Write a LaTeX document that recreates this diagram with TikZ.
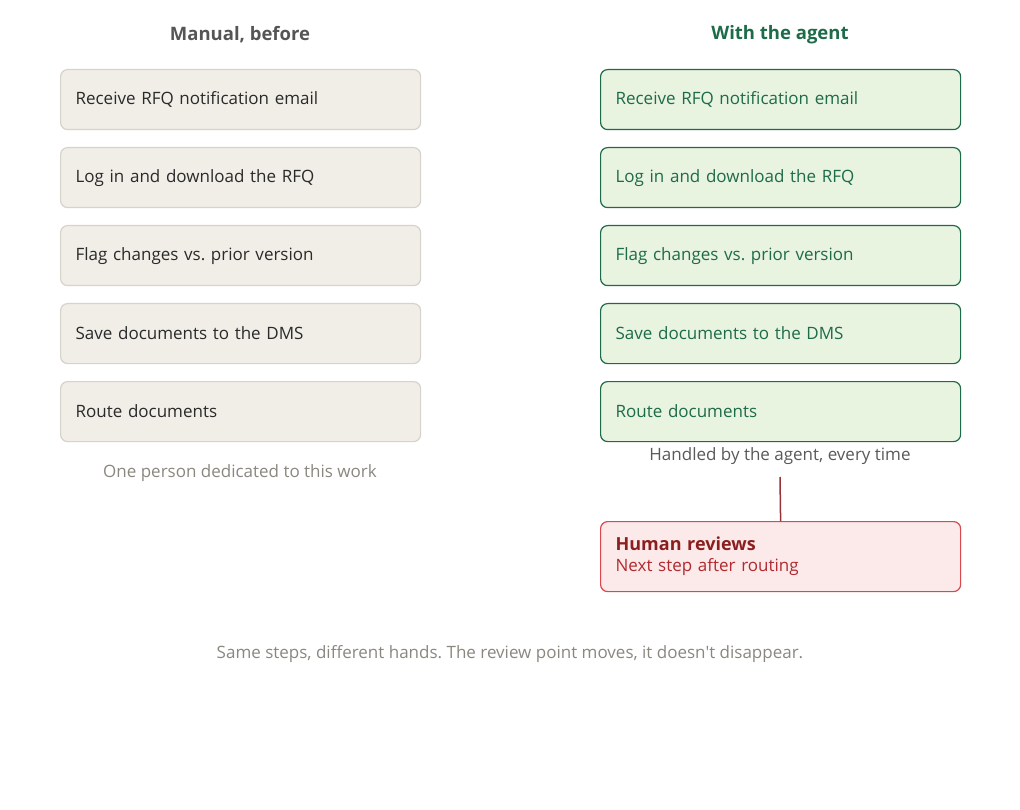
\documentclass[tikz,border=0pt]{standalone}
\usepackage{fontspec}
\newfontfamily\os{Open Sans}
\frenchspacing
\begin{document}
\begin{tikzpicture}[x=1pt,y=-1pt,
 box/.style={rounded corners=7pt,line width=1.2pt,minimum width=360pt,minimum height=60pt,anchor=north west,text width=330pt,inner xsep=15pt,align=left,font=\os\fontsize{17}{20}\selectfont},
 man/.style={box,fill=manfill,draw=manline,text=mantext},
 ag/.style={box,fill=agfill,draw=agline,text=agline},
 title/.style={font=\os\fontsize{18.5}{22}\selectfont\bfseries},
 note/.style={font=\os\fontsize{17}{20}\selectfont,text=notegray}]
\definecolor{manfill}{HTML}{F1EEE7}\definecolor{manline}{HTML}{D6D3CB}\definecolor{mantext}{HTML}{2A2A2A}
\definecolor{agfill}{HTML}{E8F3E0}\definecolor{agline}{HTML}{1E6B4A}
\definecolor{notegray}{HTML}{8A877F}
\definecolor{rfill}{HTML}{FCE9E9}\definecolor{rline}{HTML}{D9484F}
\useasboundingbox (0,0) rectangle (1020,810);
\node[title,text=mantext!80] (t1) at (240,35) {Manual, before};
\node[title,text=agline] (t2) at (780,35) {With the agent};
\foreach \y/\t [count=\i] in {69/Receive RFQ notification email,147/Log in and download the RFQ,225/Flag changes vs. prior version,303/Save documents to the DMS,381/Route documents}{
 \node[man] (m\i) at (60,\y) {\t};
 \node[ag] (a\i) at (600,\y) {\t};}
\node[note] (n1) at (240,473) {One person dedicated to this work};
\node[note,text=black!65] (n2) at (780,456) {Handled by the agent, every time};
\node[box,fill=rfill,draw=rline,minimum height=70pt] (h) at (600,521) {\textcolor[HTML]{8B1E1E}{\bfseries\fontsize{18}{20}\selectfont Human reviews}\\[1pt]\textcolor[HTML]{B02A30}{Next step after routing}};
\coordinate (c) at (780,477);
\draw[line width=1.5pt,draw=rline!70!black] (c) -- (h.north);
\node[note] (f) at (510,654) {Same steps, different hands. The review point moves, it doesn't disappear.};
\end{tikzpicture}
\end{document}
